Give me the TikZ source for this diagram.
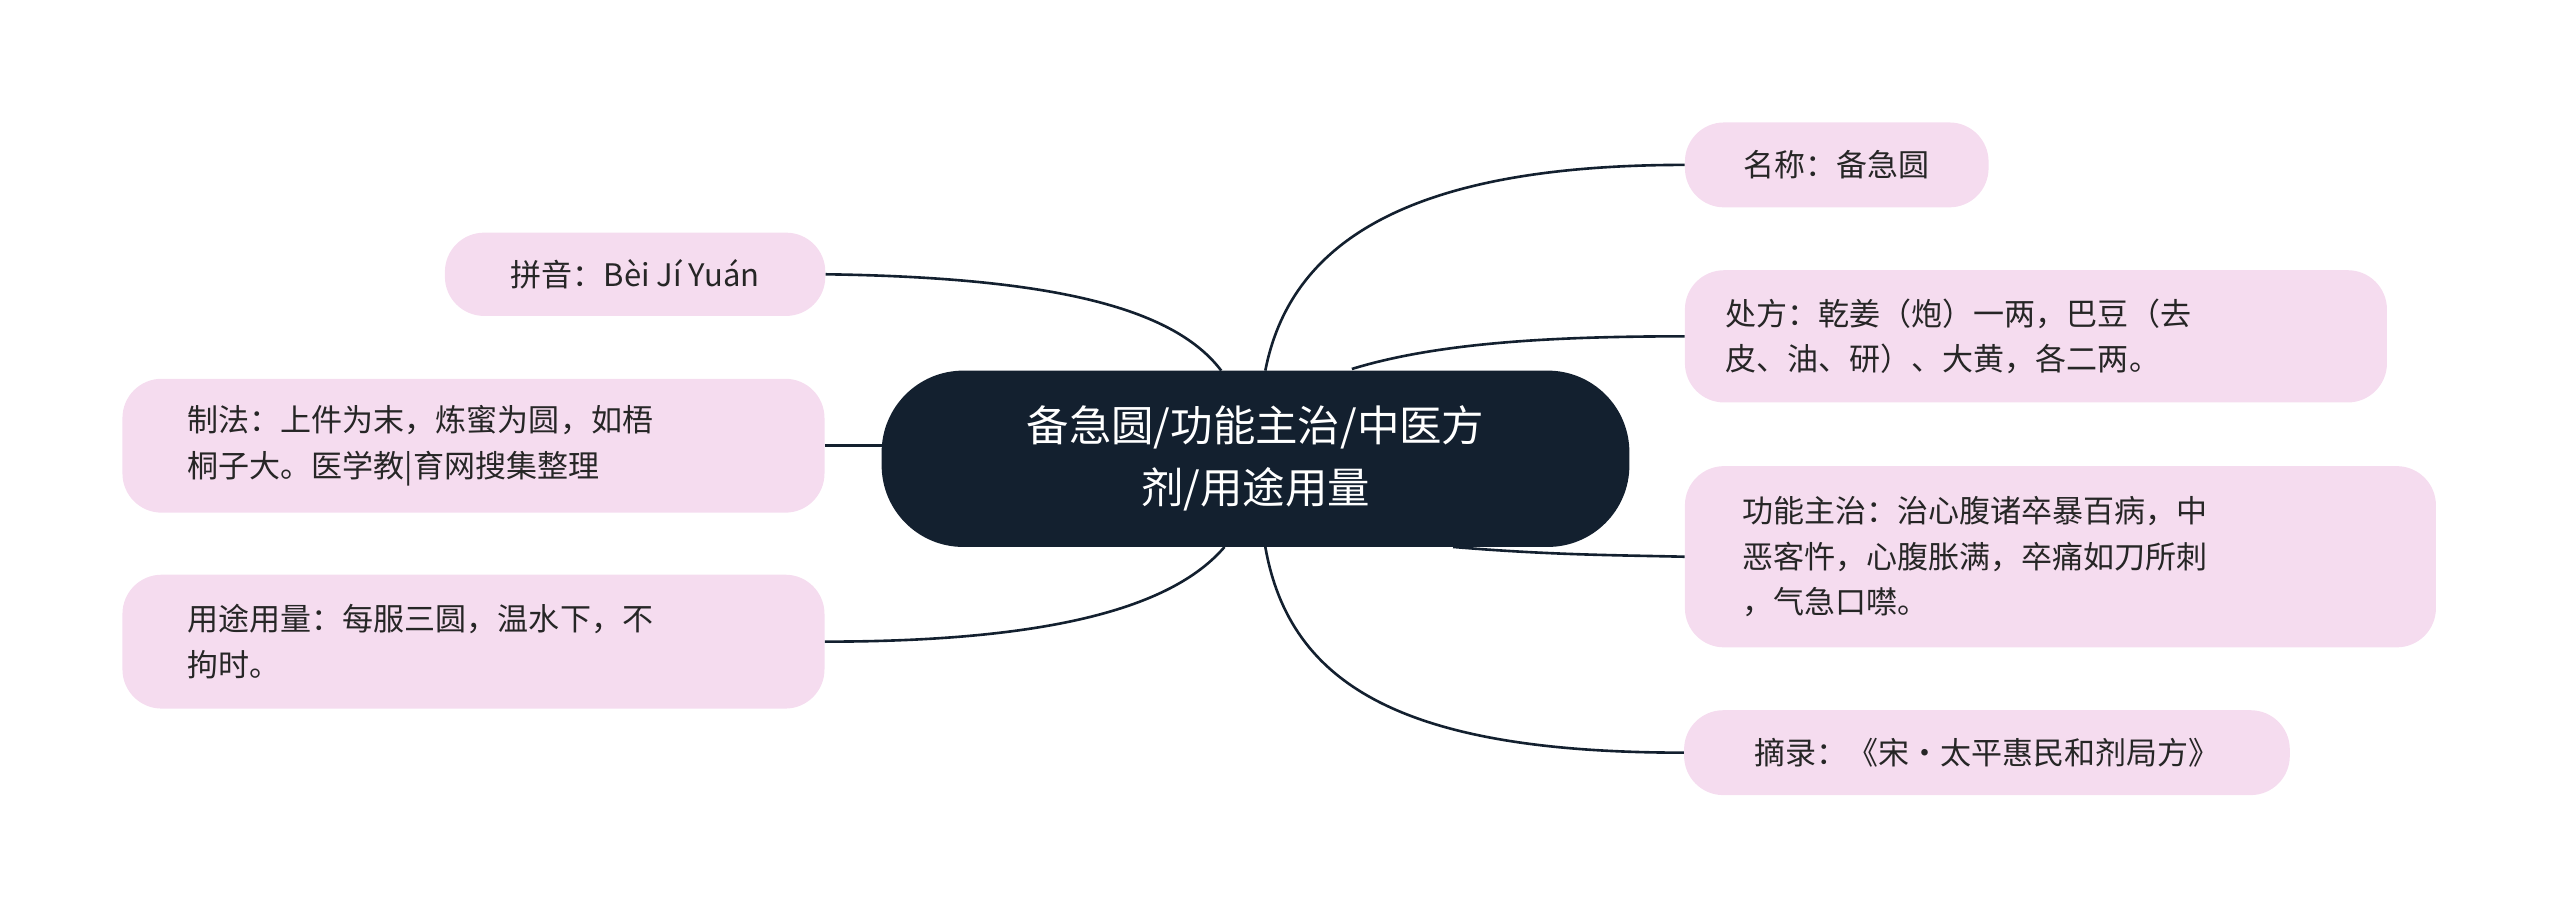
\documentclass[tikz,border=0pt]{standalone}
\usepackage{fontspec}
\setmainfont{Noto Sans CJK SC}
\definecolor{dark}{HTML}{13202F}
\definecolor{pinkbg}{HTML}{F5DCEF}
\begin{document}
\begin{tikzpicture}[x=1pt,y=-1pt,
  leaf/.style={fill=pinkbg,rounded corners=24pt,align=left,font=\fontsize{19}{28}\selectfont,text=black!85,inner sep=0pt},
  link/.style={draw=dark,line width=1.6pt}]
\useasboundingbox (0,0) rectangle (1568,562);
\node[fill=dark,rounded corners=50pt,minimum width=458pt,minimum height=108pt,text=white,align=center,font=\fontsize{26}{38}\selectfont] (c) at (769,281) {备急圆/功能主治/中医方\\剂/用途用量};
\node[leaf,minimum width=186pt,minimum height=52pt] (a) at (1125,101) {名称：备急圆};
\node[leaf,minimum width=430pt,minimum height=81pt,text width=380pt] (b) at (1247,206) {处方：乾姜（炮）一两，巴豆（去\\皮、油、研）、大黄，各二两。};
\node[leaf,minimum width=460pt,minimum height=111pt,text width=390pt] (d) at (1262,341) {功能主治：治心腹诸卒暴百病，中\\恶客忤，心腹胀满，卒痛如刀所刺\\，气急口噤。};
\node[leaf,minimum width=371pt,minimum height=52pt] (e) at (1217,461) {摘录：《宋·太平惠民和剂局方》};
\node[leaf,minimum width=233pt,minimum height=51pt] (f) at (389,168) {拼音：Bèi Jí Yuán};
\node[leaf,minimum width=430pt,minimum height=82pt,text width=350pt] (g) at (290,273) {制法：上件为末，炼蜜为圆，如梧\\桐子大。医学教|育网搜集整理};
\node[leaf,minimum width=430pt,minimum height=82pt,text width=350pt] (h) at (290,393) {用途用量：每服三圆，温水下，不\\拘时。};
\begin{scope}[on background layer/.try]
\end{scope}
\draw[link] (775,227) .. controls (790,150) and (860,101) .. (a.west);
\draw[link] (828,226) .. controls (880,210) and (950,206) .. (b.west);
\draw[link] (890,335) .. controls (950,340) and (990,340) .. (d.west);
\draw[link] (775,335) .. controls (790,420) and (860,461) .. (e.west);
\draw[link] (f.east) .. controls (650,170) and (720,190) .. (748,227);
\draw[link] (g.east) -- (540,273);
\draw[link] (h.east) .. controls (650,393) and (720,370) .. (750,335);
\end{tikzpicture}
\end{document}
